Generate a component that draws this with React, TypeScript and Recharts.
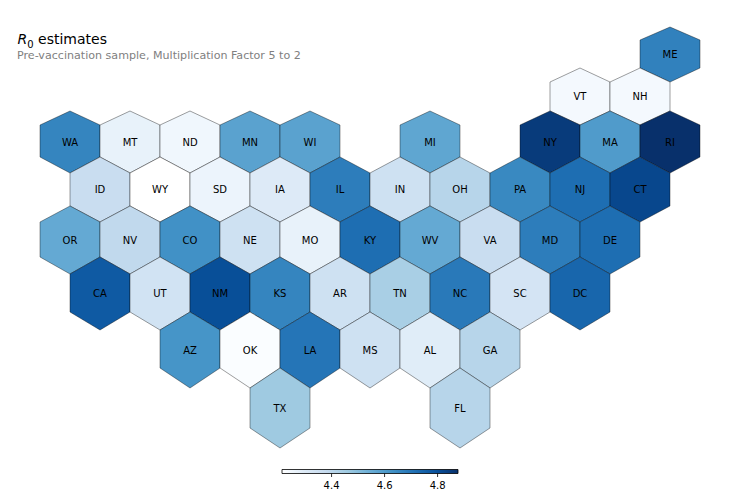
import { ScatterChart, Scatter, XAxis, YAxis, ReferenceArea } from 'recharts';

const states = [
  'ME', 'VT', 'NH', 'WA', 'MT', 'ND', 'MN', 'WI', 'MI', 'NY', 'MA', 'RI',
  'ID', 'WY', 'SD', 'IA', 'IL', 'IN', 'OH', 'PA', 'NJ', 'CT',
  'OR', 'NV', 'CO', 'NE', 'MO', 'KY', 'WV', 'VA', 'MD', 'DE',
  'CA', 'UT', 'NM', 'KS', 'AR', 'TN', 'NC', 'SC', 'DC',
  'AZ', 'OK', 'LA', 'MS', 'AL', 'GA', 'TX', 'FL',
];
const columns = [
  10, 8.5, 9.5, 0, 1, 2, 3, 4, 6, 8, 9, 10,
  0.5, 1.5, 2.5, 3.5, 4.5, 5.5, 6.5, 7.5, 8.5, 9.5,
  0, 1, 2, 3, 4, 5, 6, 7, 8, 9,
  0.5, 1.5, 2.5, 3.5, 4.5, 5.5, 6.5, 7.5, 8.5,
  2, 3, 4, 5, 6, 7, 3.5, 6.5,
];
const rows = [
  0, 1, 1, 2, 2, 2, 2, 2, 2, 2, 2, 2,
  3, 3, 3, 3, 3, 3, 3, 3, 3, 3,
  4, 4, 4, 4, 4, 4, 4, 4, 4, 4,
  5, 5, 5, 5, 5, 5, 5, 5, 5,
  6, 6, 6, 6, 6, 6, 7, 7,
];
const r0Values = [
  4.67, 4.24, 4.24, 4.66, 4.27, 4.25, 4.58, 4.58, 4.57, 4.85, 4.6, 4.877,
  4.37, 4.213, 4.26, 4.3, 4.68, 4.35, 4.41, 4.65, 4.72, 4.82,
  4.56, 4.39, 4.63, 4.35, 4.27, 4.72, 4.56, 4.37, 4.68, 4.72,
  4.77, 4.34, 4.8, 4.66, 4.35, 4.44, 4.69, 4.33, 4.74,
  4.62, 4.225, 4.7, 4.35, 4.29, 4.41, 4.46, 4.41,
];

// projected northing of the hexagon edges, north to south (rows stretch towards the south)
const edgeLevels = [421, 408, 380, 366, 337, 323, 291, 275, 242, 226, 191, 174, 136, 118, 80, 60, 20, 0];

const colorTicks = [4.4, 4.6, 4.8];
const colorMin = 4.213;
const colorMax = 4.877;

const blues: [number, number[]][] = [
  [0, [255, 255, 255]],
  [0.03, [247, 251, 255]],
  [0.125, [222, 235, 247]],
  [0.25, [198, 219, 239]],
  [0.375, [158, 202, 225]],
  [0.5, [107, 174, 214]],
  [0.625, [66, 146, 198]],
  [0.75, [33, 113, 181]],
  [0.875, [8, 81, 156]],
  [1, [8, 48, 107]],
];

function blueAt(t: number) {
  for (let i = 1; i < blues.length; i++) {
    if (t <= blues[i][0]) {
      const [t0, c0] = blues[i - 1];
      const [t1, c1] = blues[i];
      const f = (t - t0) / (t1 - t0);
      const c = c0.map((v, k) => Math.round(v + (c1[k] - v) * f));
      return `rgb(${c.join(',')})`;
    }
  }
  return 'rgb(8,48,107)';
}

const hexData = states.map((state, i) => {
  const r = rows[i];
  return {
    state,
    col: columns[i],
    north: (edgeLevels[2 * r] + edgeLevels[2 * r + 3]) / 2,
    row: r,
    value: r0Values[i],
  };
});

const colorData = colorTicks.map((v) => ({ v, y: 0.5 }));

const WIDTH = 739;
const HEIGHT = 497;
const MARGIN = { top: 27, right: 69, bottom: 49, left: 70 };
const COL_PX = (WIDTH - MARGIN.left - MARGIN.right) / 10;
const NORTH_PX = (HEIGHT - MARGIN.top - MARGIN.bottom) / 421;

function Hex(props: any) {
  const { cx, cy, payload } = props;
  const r = payload.row;
  const yAt = (level: number) => cy + (payload.north - edgeLevels[level]) * NORTH_PX;
  const top = yAt(2 * r);
  const upper = yAt(2 * r + 1);
  const lower = yAt(2 * r + 2);
  const bottom = yAt(2 * r + 3);
  const dx = COL_PX / 2;
  const pts = [
    [cx, top], [cx + dx, upper], [cx + dx, lower],
    [cx, bottom], [cx - dx, lower], [cx - dx, upper],
  ].map((p) => p.join(',')).join(' ');
  return (
    <polygon
      points={pts}
      fill={blueAt((payload.value - colorMin) / (colorMax - colorMin))}
      stroke="#000"
      strokeOpacity={0.55}
      strokeWidth={0.7}
    />
  );
}

function HexLabel(props: any) {
  const { cx, cy, payload } = props;
  return (
    <text x={cx} y={cy + 3.5} textAnchor="middle" fontSize={10} fill="#000" fontFamily="DejaVu Sans">
      {payload.state}
    </text>
  );
}

const gradientStops = blues.map(([t, c]) => ({ t, color: `rgb(${c.join(',')})` }));

export default function App() {
  return (
    <div style={{ position: 'absolute', left: 0, top: 0, width: WIDTH, height: HEIGHT, background: '#fff', fontFamily: 'DejaVu Sans' }}>
      <div style={{ position: 'absolute', left: 17.5, top: 31, fontSize: 14, color: '#000', whiteSpace: 'nowrap' }}>
        <i>R</i>
        <sub style={{ fontSize: 10, lineHeight: 0 }}>0</sub> estimates
      </div>
      <div style={{ position: 'absolute', left: 17, top: 49, fontSize: 11.1, color: '#808080', whiteSpace: 'nowrap' }}>
        Pre-vaccination sample, Multiplication Factor 5 to 2
      </div>
      <ScatterChart width={WIDTH} height={HEIGHT} margin={MARGIN}>
        <XAxis type="number" dataKey="col" domain={[0, 10]} hide />
        <YAxis type="number" dataKey="north" domain={[0, 421]} hide />
        <Scatter data={hexData} shape={Hex} isAnimationActive={false} />
        <Scatter data={hexData} shape={HexLabel} isAnimationActive={false} />
      </ScatterChart>
      <div style={{ position: 'absolute', left: 0, top: 460 }}>
        <ScatterChart width={WIDTH} height={37} margin={{ top: 9.5, right: 281, bottom: 0, left: 282 }}>
          <defs>
            <linearGradient id="bluesBar" x1="0" y1="0" x2="1" y2="0">
              {gradientStops.map((s) => (
                <stop key={s.t} offset={`${s.t * 100}%`} stopColor={s.color} />
              ))}
            </linearGradient>
          </defs>
          <XAxis
            type="number"
            dataKey="v"
            domain={[colorMin, colorMax]}
            ticks={colorTicks}
            tickFormatter={(v: number) => v.toFixed(1)}
            axisLine={false}
            tickLine={{ stroke: '#000', strokeWidth: 0.8 }}
            tickSize={3.5}
            tickMargin={5}
            tick={{ fontSize: 10, fill: '#000', fontFamily: 'DejaVu Sans' }}
            height={23.5}
            allowDataOverflow
          />
          <YAxis type="number" dataKey="y" domain={[0, 1]} hide />
          <ReferenceArea x1={colorMin} x2={colorMax} y1={0} y2={1} fill="url(#bluesBar)" fillOpacity={1} stroke="#000" strokeWidth={0.8} />
          <Scatter data={colorData} shape={() => <g />} isAnimationActive={false} />
        </ScatterChart>
      </div>
    </div>
  );
}
